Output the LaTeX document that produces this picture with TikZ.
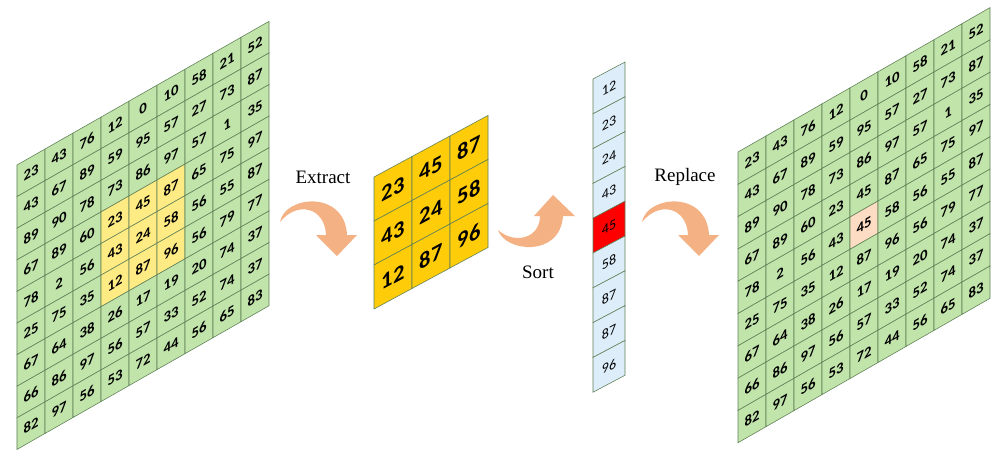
\documentclass[tikz,border=0pt]{standalone}
\usepackage{fontspec}
\setmainfont{Liberation Serif}
\setsansfont{Carlito}
\definecolor{cellgreen}{HTML}{C1E4AA}
\definecolor{gridline}{HTML}{5E7F55}
\definecolor{hiyellow}{HTML}{FFEB84}
\definecolor{winyellow}{HTML}{FFCC0A}
\definecolor{sortblue}{HTML}{DDEEFA}
\definecolor{medianred}{HTML}{FF0000}
\definecolor{newpeach}{HTML}{FCDCC2}
\definecolor{arrowfill}{HTML}{F4B183}

\begin{document}
\begin{tikzpicture}[x=0.025cm,y=-0.025cm,
  cellbox/.style={draw=gridline,line width=0.4pt,inner sep=0pt,transform shape},
  gcell/.style={cellbox,minimum width=0.7cm,font=\sffamily\bfseries\fontsize{10.5}{12}\selectfont},
  wcell/.style={cellbox,fill=winyellow,minimum width=0.95cm,minimum height=1.1cm,
                font=\sffamily\bfseries\fontsize{16}{18}\selectfont},
  scell/.style={cellbox,minimum width=0.8cm,minimum height=0.87cm,font=\sffamily\fontsize{10}{12}\selectfont},
  steplabel/.style={font=\fontsize{13.5}{16}\selectfont}]
\useasboundingbox (0,0) rectangle (991,450);

% input image
\begin{scope}[shift={(17,165)},yslant=0.57]
  \foreach \row [count=\ri from 0] in {{23,43,76,12,0,10,58,21,52},{43,67,89,59,95,57,27,73,87},
      {89,90,78,73,86,97,57,1,35},{67,89,60,23,45,87,65,75,97},{78,2,56,43,24,58,56,55,87},
      {25,75,35,12,87,96,56,79,77},{67,64,38,26,17,19,20,74,37},{66,86,97,56,57,33,52,74,37},
      {82,97,56,53,72,44,56,65,83}} {
    \foreach \v [count=\ci from 0] in \row {
      \def\cellfill{cellgreen}
      \ifnum\ri>2 \ifnum\ri<6 \ifnum\ci>2 \ifnum\ci<6 \def\cellfill{hiyellow}\fi\fi\fi\fi
      \node[gcell,minimum height=0.79cm,fill=\cellfill] (L-\ri-\ci) at (\ci*28+14,\ri*31.6+15.8) {\v};
    }
  }
\end{scope}

% extracted window
\begin{scope}[shift={(374,177)},yslant=0.54]
  \foreach \row [count=\ri from 0] in {{23,45,87},{43,24,58},{12,87,96}} {
    \foreach \v [count=\ci from 0] in \row
      \node[wcell] (M-\ri-\ci) at (\ci*38+19,\ri*44+22) {\v};
  }
\end{scope}

% sorted column
\begin{scope}[shift={(593,79)},yslant=0.53]
  \foreach \v [count=\ri from 0] in {12,23,24,43,45,58,87,87,96} {
    \def\cellfill{sortblue}
    \ifnum\ri=4 \def\cellfill{medianred}\fi
    \node[scell,fill=\cellfill] (S-\ri) at (16,\ri*34.8+17.4) {\v};
  }
\end{scope}

% output image
\begin{scope}[shift={(738,152)},yslant=0.573]
  \foreach \row [count=\ri from 0] in {{23,43,76,12,0,10,58,21,52},{43,67,89,59,95,57,27,73,87},
      {89,90,78,73,86,97,57,1,35},{67,89,60,23,45,87,65,75,97},{78,2,56,43,45,58,56,55,87},
      {25,75,35,12,87,96,56,79,77},{67,64,38,26,17,19,20,74,37},{66,86,97,56,57,33,52,74,37},
      {82,97,56,53,72,44,56,65,83}} {
    \foreach \v [count=\ci from 0] in \row {
      \def\cellfill{cellgreen}
      \ifnum\ri=4 \ifnum\ci=4 \def\cellfill{newpeach}\fi\fi
      \node[gcell,minimum height=0.8075cm,fill=\cellfill] (R-\ri-\ci) at (\ci*28+14,\ri*32.3+16.15) {\v};
    }
  }
\end{scope}

% bent arrows
\foreach \dx/\lbl/\nm in {0/Extract/extract,362/Replace/replace} {
  \begin{scope}[shift={(\dx,0)}]
    \fill[arrowfill] (280,222) .. controls (285,195) and (345,190) .. (347,235) -- (357,235)
      -- (337,256) -- (316,235) -- (326,235) .. controls (325,208) and (298,200) .. (280,222) -- cycle;
    \node[steplabel] (\nm) at (323,177) {\lbl};
  \end{scope}
}
\fill[arrowfill] (498,230) .. controls (505,252) and (560,258) .. (563,216) -- (575,216)
  -- (553,195) -- (534,216) -- (540,216) .. controls (540,238) and (515,245) .. (498,230) -- cycle;
\node[steplabel] (sort) at (538,272) {Sort};
\end{tikzpicture}
\end{document}
